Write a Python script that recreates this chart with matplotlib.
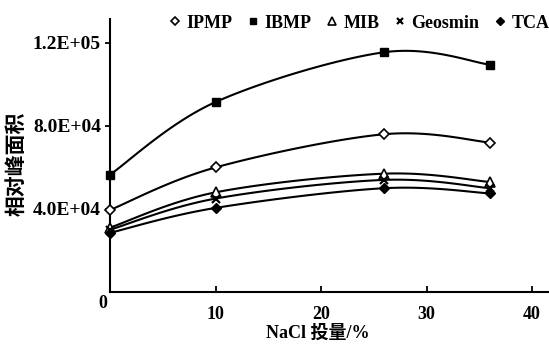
import numpy as np
import matplotlib
matplotlib.use("Agg")
import matplotlib.pyplot as plt
from matplotlib.lines import Line2D

nacl = [0, 10, 26, 36]
ipmp = [39500, 60000, 76000, 72000]
ibmp = [56500, 91500, 115500, 109500]
mib = [31000, 48000, 57000, 53000]
geosmin = [30000, 45000, 54000, 50000]
tca = [28500, 40500, 50000, 47500]

series = [
    ("IPMP", ipmp, dict(marker="D", mfc="white", ms=5.5, mew=1.2)),
    ("IBMP", ibmp, dict(marker="s", mfc="black", ms=6)),
    ("MIB", mib, dict(marker="^", mfc="white", ms=7, mew=1.2)),
    ("Geosmin", geosmin, dict(marker="x", mfc="black", ms=6, mew=1.6)),
    ("TCA", tca, dict(marker="D", mfc="black", ms=5)),
]

def smooth(x, y, n=40):
    x = np.asarray(x, float); y = np.asarray(y, float)
    P = np.column_stack([x, y])
    pts = []
    for i in range(len(P) - 1):
        p0 = P[i - 1] if i > 0 else P[i]
        p1 = P[i]; p2 = P[i + 1]
        p3 = P[i + 2] if i + 2 < len(P) else P[i + 1]
        c1 = p1 + (p2 - p0) / 6.0
        c2 = p2 - (p3 - p1) / 6.0
        t = np.linspace(0, 1, n)[:, None]
        b = (1 - t) ** 3 * p1 + 3 * (1 - t) ** 2 * t * c1 + 3 * (1 - t) * t ** 2 * c2 + t ** 3 * p2
        pts.append(b if i == 0 else b[1:])
    B = np.vstack(pts)
    return B[:, 0], B[:, 1]

serif = ['Liberation Serif', 'Noto Sans CJK SC', 'DejaVu Sans']
cjk = ['Noto Sans CJK SC', 'DejaVu Sans']
plt.rcParams['font.family'] = serif
plt.rcParams['font.weight'] = 'bold'

fig = plt.figure(figsize=(5.49, 3.48), dpi=100)
ax = fig.add_axes([110 / 549, 56 / 348, 438 / 549, 273 / 348])

for name, vals, st in series:
    sx, sy = smooth(nacl, vals)
    ax.plot(sx, sy, color="black", lw=1.5, zorder=2)
    ax.plot(nacl, vals, ls="none", color="black", mec="black", zorder=3, clip_on=False, **st)

ax.set_xlim(0, 41.5)
ax.set_ylim(0, 131500)
ax.set_xticks([0, 10, 20, 30, 40])
ax.set_xticklabels(["", "10", "20", "30", "40"])
ax.set_yticks([40000, 80000, 120000])
ax.set_yticklabels(["4.0E+04", "8.0E+04", "1.2E+05"])
ax.tick_params(axis="x", direction="in", length=4, width=1.3, labelsize=13, pad=10)
ax.tick_params(axis="y", direction="out", length=3.5, width=1.3, labelsize=14, pad=3)
for s in ["top", "right"]:
    ax.spines[s].set_visible(False)
for s in ["left", "bottom"]:
    ax.spines[s].set_linewidth(1.5)

ax.text(-0.016, -0.042, "0", transform=ax.transAxes, ha="center", va="center", fontsize=13, fontweight="bold")
ax.set_xlabel("NaCl 投量/%", fontsize=13, fontweight="bold", family=serif)
ax.xaxis.set_label_coords(0.474, -0.118)
ax.set_ylabel("相对峰面积", fontsize=15, fontweight="bold", family=cjk)
ax.yaxis.set_label_coords(-0.19, 0.47)

handles = [Line2D([], [], ls="none", color="black", mec="black", **{**st, "ms": st["ms"] * 0.8}) for _, _, st in series]
leg = fig.legend(handles, [s[0] for s in series], loc="center left", bbox_to_anchor=(170 / 549, 1 - 23 / 348),
                 ncol=5, frameon=False, fontsize=13, handlelength=0.6, handletextpad=0.32,
                 columnspacing=0.85, borderaxespad=0, borderpad=0)

fig.savefig("out.png", dpi=100)
